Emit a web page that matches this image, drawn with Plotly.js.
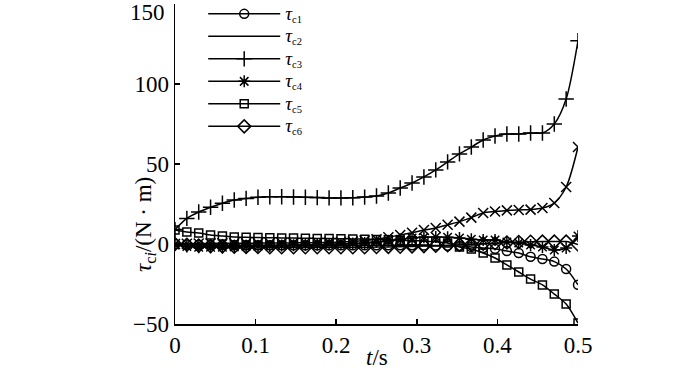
<!DOCTYPE html>
<html>
<head>
<meta charset="utf-8">
<script src="https://cdn.plot.ly/plotly-3.0.1.min.js"></script>
<style>html,body{margin:0;padding:0;background:#fff;}#chart{width:700px;height:372px;}</style>
</head>
<body>
<div id="chart"></div>
<script>
// time samples (s)
var N = 35;
var t = [];
for (var i = 0; i < N; i++) t.push(0.5 * i / (N - 1));

var tau_c1 = [0, -0.3, -0.5, -0.6, -0.7, -0.8, -0.8, -0.8, -0.8, -0.8, -0.8, -0.8, -0.8, -0.8, -0.8, -0.8, -0.8, -0.8, -0.8, -0.8, -0.8, -0.9, -1.0, -1.1, -1.3, -1.8, -2.5, -3, -4.4, -5.6, -8, -9.4, -11, -15.6, -25.5];
var tau_c2 = [0, 0.2, 0.3, 0.4, 0.5, 0.5, 0.5, 0.5, 0.6, 0.6, 0.7, 0.8, 0.9, 1.0, 1.2, 1.6, 2.2, 3, 4.2, 5.6, 7, 8.7, 10, 12, 14, 16.5, 19.4, 20.3, 21, 21.3, 21.5, 22.5, 25.6, 35.6, 60.6];
var tau_c3 = [9, 16, 20, 23, 25.5, 27.5, 28.5, 29.2, 29.5, 29.5, 29.4, 29.2, 29, 28.8, 28.8, 28.9, 29.3, 30, 31.9, 35, 38.1, 41.9, 46.3, 51.3, 56.3, 60.6, 65, 67.5, 68.75, 68.75, 69.4, 69.4, 75, 90.6, 127];
var tau_c4 = [-0.6, -1.5, -2, -2, -2, -1.8, -1.6, -1.4, -1.2, -1, -0.8, -0.6, -0.4, -0.2, 0, 0.3, 0.7, 1.2, 2, 3, 3.8, 4.2, 4.4, 4.2, 3.75, 3, 2.5, 2.5, 1.25, 0.6, -0.6, -1.9, -3.75, -2.5, 5];
var tau_c5 = [8.75, 7.5, 6.9, 5.6, 5, 4.4, 4.2, 4, 3.9, 3.8, 3.7, 3.6, 3.5, 3.4, 3.3, 3.2, 3.0, 2.8, 2.6, 2.4, 2.1, 1.8, 1.4, 0.6, -1.9, -3.1, -5.6, -8.75, -13.1, -17.5, -21.9, -25.6, -31.3, -37.5, -49.4];
var tau_c6 = [0, -0.5, -1, -1.3, -1.5, -1.7, -1.8, -1.9, -2, -2, -2, -2, -2, -2, -2, -2, -2, -1.9, -1.8, -1.7, -1.5, -1.3, -1.1, -0.8, -0.5, -0.2, 0.2, 0.5, 0.9, 1.2, 1.4, 1.5, 1.5, 1.5, -0.3];

var TAU = '<span style="font-size:19px"><i>τ</i></span>';
var names = [TAU + '<sub>c1</sub>', TAU + '<sub>c2</sub>', TAU + '<sub>c3</sub>', TAU + '<sub>c4</sub>', TAU + '<sub>c5</sub>', TAU + '<sub>c6</sub>'];
var xTicks = [0, 0.1, 0.2, 0.3, 0.4, 0.5];
var xTickText = ['0', '0.1', '0.2', '0.3', '0.4', '0.5'];
var yTicks = [-50, 0, 50, 100, 150];
var yTickText = ['−50', '0', '50', '100', ''];
var yTopLabel = '150';

var FONT = 'Liberation Serif, Times New Roman, serif';
var ln = {color: '#000', width: 1.5, shape: 'spline', smoothing: 0.8};
function mk(sym, size) {
  return {symbol: sym, size: size, color: '#000', line: {color: '#000', width: 1.5}};
}

var traces = [
  {x: t, y: tau_c1, name: names[0], mode: 'lines+markers', line: ln, marker: mk('circle-open', 9)},
  {x: t, y: tau_c2, name: names[1], mode: 'lines', line: ln},
  {x: t, y: tau_c2, name: names[1], mode: 'markers', showlegend: false, marker: mk('x-thin-open', 10)},
  {x: t, y: tau_c3, name: names[2], mode: 'lines+markers', line: ln, marker: mk('cross-thin-open', 11)},
  {x: t, y: tau_c4, name: names[3], mode: 'lines+markers', line: ln, marker: mk('asterisk-open', 10)},
  {x: t, y: tau_c5, name: names[4], mode: 'lines+markers', line: ln, marker: mk('square-open', 8)},
  {x: t, y: tau_c6, name: names[5], mode: 'lines+markers', line: ln, marker: mk('diamond-open', 10)}
];

var layout = {
  width: 700, height: 372,
  margin: {l: 175, r: 122, t: 4, b: 48, pad: 0, autoexpand: false},
  paper_bgcolor: '#fff', plot_bgcolor: '#fff',
  font: {family: FONT, color: '#000', size: 23},
  showlegend: true,
  legend: {
    x: 0.07, y: 1.02, xanchor: 'left', yanchor: 'top',
    bgcolor: 'rgba(0,0,0,0)', borderwidth: 0,
    font: {family: FONT, size: 15, color: '#000'},
    itemwidth: 72, tracegroupgap: 0
  },
  xaxis: {
    range: [0, 0.5], tickvals: xTicks, ticktext: xTickText, automargin: false,
    ticks: 'inside', ticklen: 5, tickwidth: 1.5, tickcolor: '#000',
    showline: true, linecolor: '#000', linewidth: 1.5, mirror: false,
    showgrid: false, zeroline: false, ticklabeloverflow: 'allow',
    tickfont: {family: FONT, size: 23, color: '#000'}
  },
  yaxis: {
    range: [-50, 150], tickvals: yTicks, ticktext: yTickText, automargin: false,
    ticks: 'inside', ticklen: 5, tickwidth: 1.5, tickcolor: '#000',
    showline: true, linecolor: '#000', linewidth: 1.5, mirror: false,
    showgrid: false, zeroline: false, ticklabeloverflow: 'allow',
    tickfont: {family: FONT, size: 23, color: '#000'}
  },
  annotations: [
    {text: yTopLabel, xref: 'paper', yref: 'paper', x: -0.02, y: 0.972, xanchor: 'right', yanchor: 'middle',
     showarrow: false, font: {family: FONT, size: 23, color: '#000'}},
    {text: '<i>t</i>/s', xref: 'paper', yref: 'paper', x: 0.5, y: -0.06, xanchor: 'center', yanchor: 'top',
     showarrow: false, font: {family: FONT, size: 23, color: '#000'}},
    {text: '<i>τ</i><sub>c<i>i</i></sub>/(N · m)', xref: 'paper', yref: 'paper', x: -0.074, y: 0.31,
     xanchor: 'center', yanchor: 'middle', textangle: -90,
     showarrow: false, font: {family: FONT, size: 23, color: '#000'}}
  ]
};

Plotly.newPlot('chart', traces, layout, {displayModeBar: false, staticPlot: true});
</script>
</body>
</html>
